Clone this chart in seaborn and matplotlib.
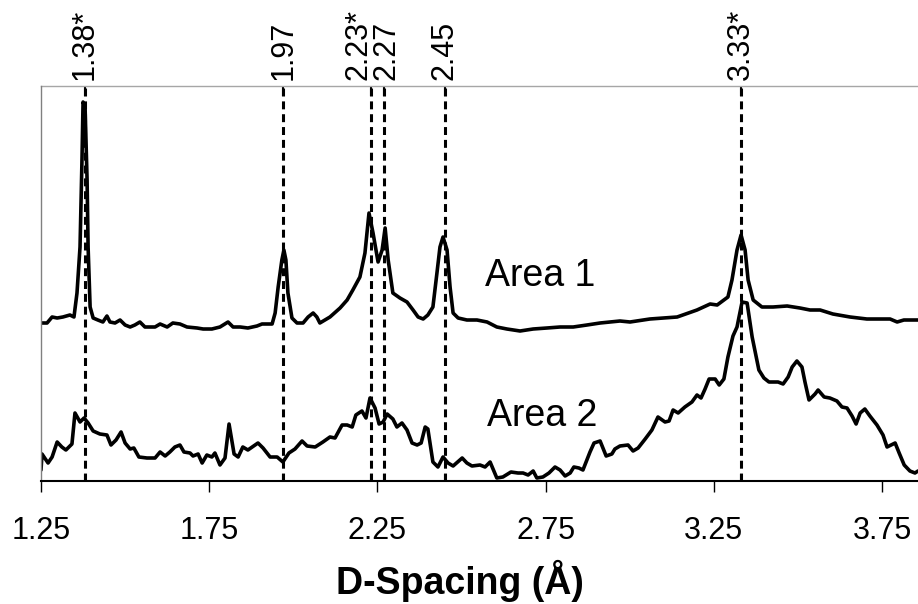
import matplotlib
matplotlib.use("Agg")
import matplotlib.pyplot as plt
import matplotlib.transforms as mtransforms
import seaborn as sns
import pandas as pd

# ── Data (intensity in arbitrary units) ─────────────────────────────────────

area1_d = [
    1.253, 1.268, 1.283, 1.298, 1.315, 1.336, 1.348, 1.357, 1.366, 1.372,
    1.375, 1.381, 1.387, 1.390, 1.396, 1.405, 1.419, 1.434, 1.446, 1.455,
    1.470, 1.485, 1.500, 1.515, 1.529, 1.544, 1.559, 1.574, 1.589, 1.604,
    1.625, 1.642, 1.663, 1.684, 1.714, 1.732, 1.758, 1.782, 1.806, 1.821,
    1.842, 1.865, 1.892, 1.907, 1.937, 1.946, 1.955, 1.966, 1.972, 1.978,
    1.984, 1.996, 2.011, 2.029, 2.044, 2.059, 2.070, 2.079, 2.094, 2.109,
    2.139, 2.160, 2.177, 2.198, 2.213, 2.225, 2.237, 2.252, 2.264, 2.273,
    2.282, 2.296, 2.317, 2.338, 2.356, 2.371, 2.386, 2.400, 2.415, 2.427,
    2.436, 2.445, 2.457, 2.466, 2.475, 2.490, 2.516, 2.546, 2.576, 2.605,
    2.635, 2.674, 2.713, 2.754, 2.793, 2.832, 2.873, 2.912, 2.971, 3.001,
    3.060, 3.141, 3.200, 3.239, 3.260, 3.292, 3.304, 3.319, 3.331, 3.343,
    3.352, 3.367, 3.393, 3.426, 3.468, 3.506, 3.536, 3.566, 3.604, 3.655,
    3.705, 3.774, 3.795, 3.815, 3.857,
]
area1_int = [
    158, 158, 164, 163, 164, 166, 164, 188, 234, 324,
    379, 374, 301, 234, 174, 163, 161, 159, 165, 159,
    158, 161, 156, 154, 156, 159, 154, 154, 154, 157,
    154, 158, 157, 154, 153, 152, 152, 154, 159, 154,
    154, 153, 155, 157, 157, 168, 194, 221, 231, 221,
    188, 163, 158, 158, 164, 168, 164, 158, 161, 164,
    173, 181, 191, 204, 228, 268, 248, 219, 231, 253,
    221, 188, 183, 179, 171, 164, 162, 166, 174, 208,
    234, 244, 231, 194, 168, 163, 161, 161, 159, 154,
    152, 150, 152, 153, 154, 154, 156, 158, 160, 159,
    162, 164, 171, 177, 176, 184, 201, 231, 246, 231,
    201, 181, 174, 174, 175, 173, 171, 171, 167, 164,
    162, 162, 159, 161, 161,
]

area2_d = [
    1.250, 1.253, 1.271, 1.283, 1.298, 1.312, 1.324, 1.342, 1.351, 1.366,
    1.378, 1.390, 1.405, 1.425, 1.446, 1.458, 1.473, 1.488, 1.500, 1.515,
    1.526, 1.541, 1.565, 1.589, 1.604, 1.619, 1.633, 1.648, 1.663, 1.675,
    1.693, 1.702, 1.717, 1.729, 1.743, 1.758, 1.767, 1.782, 1.797, 1.809,
    1.824, 1.836, 1.850, 1.865, 1.895, 1.910, 1.931, 1.952, 1.969, 1.987,
    2.005, 2.026, 2.041, 2.065, 2.088, 2.109, 2.124, 2.145, 2.160, 2.175,
    2.186, 2.204, 2.216, 2.228, 2.243, 2.255, 2.267, 2.279, 2.296, 2.308,
    2.323, 2.338, 2.353, 2.368, 2.380, 2.392, 2.400, 2.415, 2.430, 2.445,
    2.460, 2.475, 2.502, 2.516, 2.531, 2.555, 2.570, 2.585, 2.605, 2.623,
    2.647, 2.668, 2.683, 2.698, 2.713, 2.724, 2.742, 2.760, 2.778, 2.793,
    2.808, 2.823, 2.834, 2.849, 2.861, 2.882, 2.894, 2.912, 2.930, 2.947,
    2.956, 2.971, 2.995, 3.010, 3.025, 3.046, 3.066, 3.084, 3.105, 3.117,
    3.129, 3.144, 3.164, 3.185, 3.200, 3.212, 3.224, 3.236, 3.254, 3.266,
    3.280, 3.292, 3.307, 3.319, 3.334, 3.349, 3.364, 3.370, 3.384, 3.399,
    3.414, 3.441, 3.456, 3.471, 3.483, 3.497, 3.512, 3.521, 3.533, 3.551,
    3.560, 3.578, 3.595, 3.616, 3.631, 3.646, 3.661, 3.673, 3.685, 3.699,
    3.714, 3.735, 3.753, 3.765, 3.789, 3.801, 3.816, 3.833, 3.848, 3.857,
]
area2_int = [
    11, 27, 18, 24, 39, 34, 31, 37, 68, 59,
    63, 58, 50, 47, 46, 36, 41, 49, 38, 32,
    33, 24, 23, 23, 29, 25, 29, 34, 36, 29,
    28, 25, 27, 18, 26, 24, 28, 16, 23, 57,
    27, 24, 34, 31, 38, 33, 24, 24, 19, 28,
    32, 40, 35, 34, 39, 44, 43, 56, 56, 54,
    66, 70, 63, 83, 73, 57, 59, 67, 62, 54,
    58, 51, 38, 36, 38, 54, 52, 19, 14, 24,
    18, 15, 23, 18, 15, 16, 14, 19, 3, 4,
    9, 8, 8, 6, 10, 3, 4, 8, 14, 11,
    5, 8, 14, 13, 11, 29, 38, 40, 25, 27,
    32, 35, 36, 30, 33, 42, 51, 64, 59, 60,
    71, 68, 74, 79, 86, 83, 92, 102, 102, 96,
    102, 124, 145, 154, 179, 178, 144, 134, 111, 103,
    99, 99, 97, 104, 114, 120, 114, 99, 81, 87,
    91, 84, 83, 80, 74, 73, 65, 57, 68, 72,
    65, 56, 46, 34, 38, 28, 16, 10, 8, 10,
]

peak_d = [1.38, 1.97, 2.23, 2.27, 2.45, 3.33]
peak_labels = ["1.38*", "1.97", "2.23*", "2.27", "2.45", "3.33*"]

x_ticks = [1.25, 1.75, 2.25, 2.75, 3.25, 3.75]
x_tick_labels = ["1.25", "1.75", "2.25", "2.75", "3.25", "3.75"]

trace_names = ["Area 1", "Area 2"]

# ── Figure ───────────────────────────────────────────────────────────────────

sns.set_style("white")
plt.rcParams["font.family"] = ["Liberation Sans", "DejaVu Sans"]
plt.rcParams["text.color"] = "black"
plt.rcParams["axes.labelcolor"] = "black"
plt.rcParams["xtick.color"] = "black"

df = pd.concat([
    pd.DataFrame({"d": area1_d, "intensity": area1_int, "trace": trace_names[0]}),
    pd.DataFrame({"d": area2_d, "intensity": area2_int, "trace": trace_names[1]}),
])

fig = plt.figure(figsize=(9.18, 6.04), dpi=100)
ax = fig.add_axes([41 / 918, 123 / 604, 877 / 918, 395 / 604])

sns.lineplot(data=df, x="d", y="intensity", units="trace", estimator=None,
             sort=False, color="black", linewidth=2.6, legend=False, ax=ax)

for d in peak_d:
    ax.axvline(d, color="black", linewidth=2.2, linestyle=(0, (2.6, 1.6)),
               zorder=3)

ax.set_xlim(1.25, 3.857)
ax.set_ylim(0, 395)
ax.set_yticks([])
ax.set_ylabel("")

ax.set_xticks(x_ticks, labels=x_tick_labels)
ax.set_xticks(peak_d, minor=True)
ax.tick_params(axis="x", which="major", direction="out", length=8, width=1,
               labelsize=22, pad=17, bottom=True, labelcolor="black")
ax.tick_params(axis="x", which="minor", direction="in", length=5, width=1.5,
               bottom=True)

ax.set_xlabel("D-Spacing (Å)", fontsize=27, fontweight="bold")
ax.xaxis.set_label_coords(0.478, -0.2)

ax.spines["bottom"].set_color("black")
ax.spines["bottom"].set_linewidth(1.5)
ax.spines["left"].set_color("#808080")
ax.spines["left"].set_linewidth(1)
ax.spines["right"].set_visible(False)
ax.spines["top"].set_visible(False)

top = ax.secondary_xaxis("top")
top.set_xticks(peak_d, labels=peak_labels)
top.tick_params(direction="in", length=7, width=1.5, labelsize=22,
                labelrotation=90, pad=4, labelcolor="black")
top.spines["top"].set_color("#a6a6a6")
top.spines["top"].set_linewidth(1)

# pull the crowded 2.23* / 2.27 labels apart, as in the original
labels = top.get_xticklabels()
for idx, dx in [(2, -12), (3, 2)]:
    shift = mtransforms.ScaledTranslation(dx / 100, 0, fig.dpi_scale_trans)
    labels[idx].set_transform(labels[idx].get_transform() + shift)

ax.text(2.735, 205, trace_names[0], fontsize=27, ha="center", va="center")
ax.text(2.74, 65, trace_names[1], fontsize=27, ha="center", va="center")

fig.savefig("out.png", dpi=100)
plt.close(fig)
